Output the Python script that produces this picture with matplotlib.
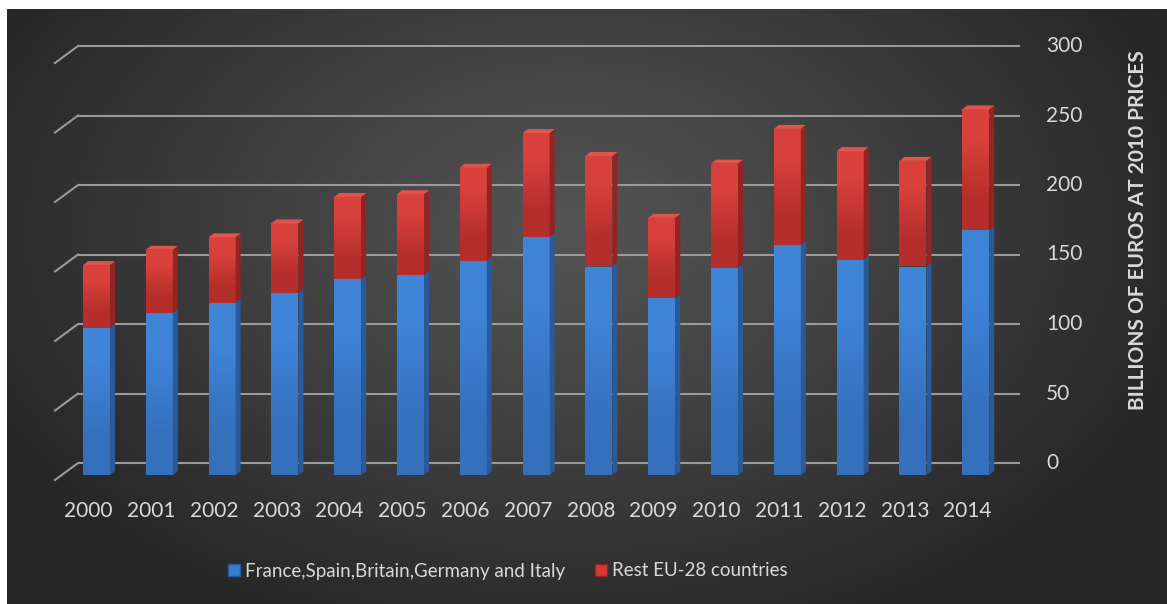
import numpy as np
import matplotlib
matplotlib.use('Agg')
import matplotlib.pyplot as plt
from matplotlib.patches import Polygon, Rectangle, Patch

plt.rcParams['font.family'] = ['Lato', 'DejaVu Sans']

years = [str(y) for y in range(2000, 2015)]
big_five = np.array([106, 116.5, 124, 131, 141, 144, 154, 171, 150, 127, 149, 165.5, 155, 150, 176])
rest_eu = np.array([45, 45.5, 47, 50, 59, 58, 67, 75, 79.5, 58, 75, 83.5, 78, 76, 87])
y_ticks = [0, 50, 100, 150, 200, 250, 300]
legend_labels = ['France,Spain,Britain,Germany and Italy', 'Rest EU-28 countries']

W, H = 1167, 604
fig = plt.figure(figsize=(W / 100, H / 100), dpi=100, facecolor='white')

# dark radial background (leaves a thin white margin top/left)
bg = fig.add_axes([7 / W, 0, 1 - 7 / W, (H - 9) / H])
gx, gy = np.meshgrid(np.linspace(7, W, 400), np.linspace(9, H, 220))
r = np.sqrt(((gx - 570) / 640) ** 2 + ((gy - 230) / 430) ** 2)
r = np.clip(r, 0, 1)
shade = (0x54 - (0x54 - 0x27) * r ** 1.1) / 255
bg.imshow(np.dstack([shade] * 3), aspect='auto', extent=(0, 1, 1, 0), interpolation='bicubic')
bg.set_xlim(0, 1)
bg.set_ylim(1, 0)
bg.axis('off')

# plotting frame: x in bar units, y in value units (front plane of the bars)
left_px, right_px = 62, 1004
base_px, ppy = 475, 1.39
ymax = 310
ax = fig.add_axes([left_px / W, 1 - base_px / H, (right_px - left_px) / W, ymax * ppy / H])
ax.set_facecolor('none')
xlo, xhi = -0.55, 14.45
ax.set_xlim(xlo, xhi)
ax.set_ylim(0, ymax)
ax.axis('off')

ppx = (right_px - left_px) / (xhi - xlo)
px = lambda p: p / ppx     # pixel -> x units
py = lambda p: p / ppy     # pixel -> y units

grid_col = '#9a9a9a'
text_col = '#d9d9d9'

# back wall gridlines with the side-wall depth strokes
wall_dx, wall_dy = px(16), py(12)
for v in y_ticks:
    ax.plot([xlo + wall_dx, xhi + wall_dx], [v + wall_dy, v + wall_dy], color=grid_col,
            lw=1.5, clip_on=False, zorder=1, solid_capstyle='butt')
    ax.plot([xlo - px(7), xlo + wall_dx], [v - py(5), v + wall_dy], color=grid_col,
            lw=1.5, clip_on=False, zorder=1)
    ax.text(xhi + px(42), v + wall_dy, f'{v}', color=text_col, fontsize=15,
            ha='left', va='center', clip_on=False)

ax.text(xhi + px(134), py(475 - 230), 'BILLIONS OF EUROS AT 2010 PRICES', color=text_col,
        fontsize=15, fontweight='bold', rotation=90, ha='center', va='center', clip_on=False)


def face(x0, x1, y0, y1, c_top, c_bot, z):
    img = ax.imshow(np.array([[matplotlib.colors.to_rgb(c_top)], [matplotlib.colors.to_rgb(c_bot)]]),
                    extent=(x0, x1, y0, y1), origin='upper', aspect='auto',
                    interpolation='bilinear', zorder=z)
    clip = Rectangle((x0, y0), x1 - x0, y1 - y0, transform=ax.transData)
    img.set_clip_path(clip)


bw = px(27)
ddx, ddy = px(5), py(4)
for i, (b, rr) in enumerate(zip(big_five, rest_eu)):
    x0, x1 = i - bw / 2, i + bw / 2
    tot = b + rr
    z = 3
    # blue segment
    face(x0, x1, 0, b, '#3f84d6', '#3570bd', z)
    ax.add_patch(Polygon([(x1, 0), (x1, b), (x1 + ddx, b + ddy), (x1 + ddx, ddy)],
                         closed=True, facecolor='#2a5a9a', edgecolor='none', zorder=z))
    # red segment
    face(x0, x1, b, tot, '#d9413c', '#b52e2b', z)
    ax.add_patch(Polygon([(x1, b), (x1, tot), (x1 + ddx, tot + ddy), (x1 + ddx, b + ddy)],
                         closed=True, facecolor='#942421', edgecolor='none', zorder=z))
    ax.add_patch(Polygon([(x0, tot), (x1, tot), (x1 + ddx, tot + ddy), (x0 + ddx, tot + ddy)],
                         closed=True, facecolor='#e0544e', edgecolor='none', zorder=z))
    ax.text(i - px(8), -py(36), years[i], color=text_col, fontsize=15,
            ha='center', va='center', clip_on=False)

ax.set_xlim(xlo, xhi)
ax.set_ylim(0, ymax)

handles = [Patch(facecolor='#3a7bd0', edgecolor='#2a5a9a'),
           Patch(facecolor='#d23a36', edgecolor='#942421')]
fig.legend(handles, legend_labels, loc='center', bbox_to_anchor=(508 / W, 1 - 571 / H),
           ncol=2, frameon=False, fontsize=13.5, labelcolor=text_col,
           handlelength=0.6, handleheight=0.6, handletextpad=0.3, columnspacing=1.6)

fig.savefig('out.png', dpi=100, facecolor='white')
